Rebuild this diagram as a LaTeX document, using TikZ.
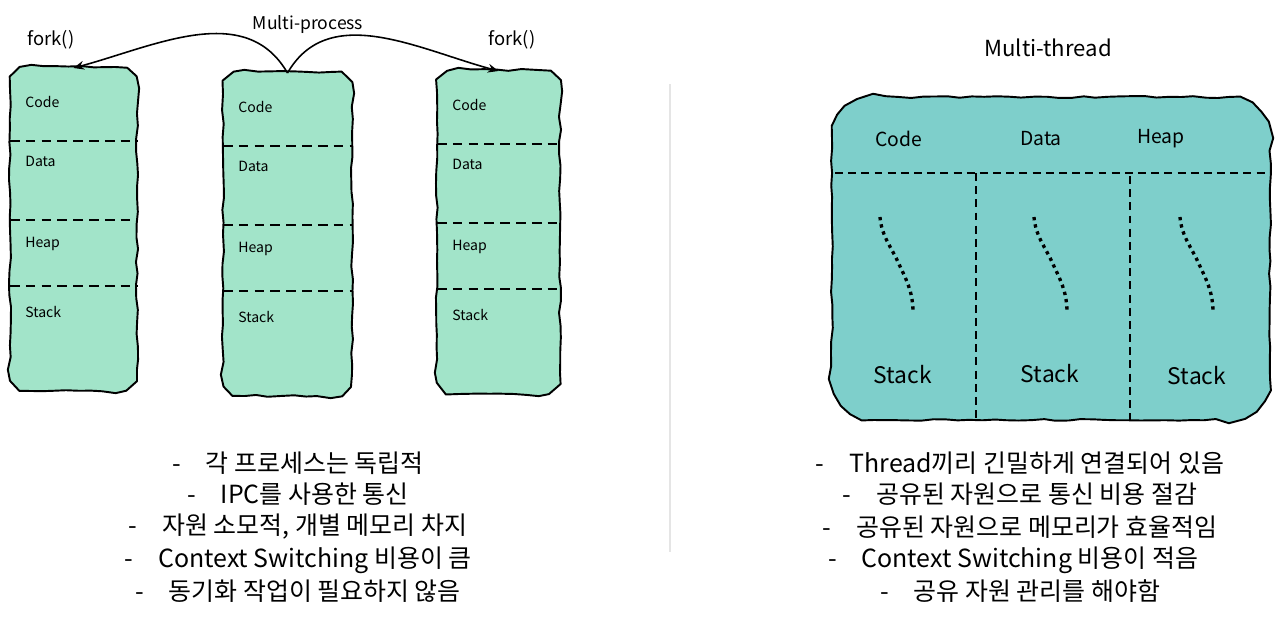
\documentclass[tikz,border=0pt]{standalone}
\usepackage{fontspec}
\setmainfont{Noto Sans CJK KR}
\usepackage{tikz}
\usetikzlibrary{positioning,arrows.meta,decorations.pathmorphing}

\definecolor{procgreen}{HTML}{A2E4C9}
\definecolor{threadteal}{HTML}{7ECFCB}

% x, y, width, height, corner
\newcommand{\sketchrect}[5]{%
	(#1,#2+#4/2) -- (#1,#2+#5) .. controls (#1,#2+0.45*#5) and (#1+0.45*#5,#2) .. (#1+#5,#2)
	-- (#1+#3-#5,#2) .. controls (#1+#3-0.45*#5,#2) and (#1+#3,#2+0.45*#5) .. (#1+#3,#2+#5)
	-- (#1+#3,#2+#4-#5) .. controls (#1+#3,#2+#4-0.45*#5) and (#1+#3-0.45*#5,#2+#4) .. (#1+#3-#5,#2+#4)
	-- (#1+#5,#2+#4) .. controls (#1+0.45*#5,#2+#4) and (#1,#2+#4-0.45*#5) .. (#1,#2+#4-#5) -- cycle}

\tikzset{
	wavy/.style={decorate,decoration={random steps,segment length=7pt,amplitude=0.6pt},line width=1.1pt,line join=round},
	seg/.style={line width=1pt,dash pattern=on 5.5pt off 3.5pt},
	tseg/.style={line width=0.9pt,dash pattern=on 4.5pt off 3pt},
	seglbl/.style={font=\fontsize{8}{10}\selectfont,anchor=west,inner sep=0pt},
	tlbl/.style={font=\fontsize{11}{13}\selectfont,inner sep=0pt},
	stk/.style={font=\fontsize{13}{15}\selectfont,inner sep=0pt},
	note/.style={font=\fontsize{14.2}{16}\selectfont,inner sep=0pt},
	fk/.style={-{Stealth[length=6pt,width=5pt]},line width=0.9pt}
}

\begin{document}
\begin{tikzpicture}[x=0.02cm,y=-0.02cm]
	\useasboundingbox (0,0) rectangle (1286,632);
	\pgfmathsetseed{7}

	% multi-process
	\foreach \n/\x/\y/\w in {pa/10/67/127, pb/223/72/129, pc/437/70/123} {
		\draw[wavy,fill=procgreen] \sketchrect{\x}{\y}{\w}{324}{22};
		\foreach \d in {74,153,219}
			\draw[seg] (\x,\y+\d) -- ++(\w,0);
		\node[seglbl] (\n-code) at (\x+15,\y+35) {Code};
		\node[seglbl] (\n-data) at (\x+15,\y+94) {Data};
		\node[seglbl] (\n-heap) at (\x+15,\y+177) {Heap};
		\node[seglbl] (\n-stack) at (\x+15,\y+245) {Stack};
		\coordinate (\n-top) at (\x+\w/2,\y+1);
	}
	\node[font=\fontsize{10}{12}\selectfont] (mp) at (308,25) {Multi-process};
	\node[font=\fontsize{10.5}{12}\selectfont] (forka) at (51,40) {fork()};
	\node[font=\fontsize{10.5}{12}\selectfont] (forkb) at (512,40) {fork()};
	\draw[fk] (pb-top) to[out=120,in=15] (pa-top);
	\draw[fk] (pb-top) to[out=60,in=165] (pc-top);

	% separator
	\draw[gray!20,line width=1pt] (670,84) -- (670,552);

	% multi-thread
	\node[font=\fontsize{12.6}{14}\selectfont] (mt) at (1048,48) {Multi-thread};
	\draw[wavy,fill=threadteal] \sketchrect{832}{97}{438}{323}{42};
	\draw[tseg] (835,173) -- (1270,173);
	\draw[tseg] (976,173) -- (976,418);
	\draw[tseg] (1130,176) -- (1130,420);
	\node[tlbl] (tcode) at (899,139) {Code};
	\node[tlbl] (tdata) at (1041,139) {Data};
	\node[tlbl] (theap) at (1161,139) {Heap};
	\foreach \x in {880,1034,1180} {
		\draw[line width=1.9pt,dash pattern=on 1.9pt off 2.3pt] (\x,217) to[out=-85,in=115] (\x+18,262) to[out=-65,in=92] (\x+33,310);
	}
	\node[stk] (sa) at (903,375) {Stack};
	\node[stk] (sb) at (1050,374) {Stack};
	\node[stk] (sc) at (1197,376) {Stack};

	% notes
	\node[note] (l1) at (298,463) {-\quad 각 프로세스는 독립적};
	\node[note] (l2) at (298,494) {-\quad IPC를 사용한 통신};
	\node[note] (l3) at (298,527) {-\quad 자원 소모적, 개별 메모리 차지};
	\node[note] (l4) at (298,560) {-\quad Context Switching 비용이 큼};
	\node[note] (l5) at (298,591) {-\quad 동기화 작업이 필요하지 않음};
	\node[note] (r1) at (1020,463) {-\quad Thread끼리 긴밀하게 연결되어 있음};
	\node[note] (r2) at (1020,494) {-\quad 공유된 자원으로 통신 비용 절감};
	\node[note] (r3) at (1020,527) {-\quad 공유된 자원으로 메모리가 효율적임};
	\node[note] (r4) at (1013,560) {-\quad Context Switching 비용이 적음};
	\node[note] (r5) at (1020,591) {-\quad 공유 자원 관리를 해야함};
\end{tikzpicture}
\end{document}
